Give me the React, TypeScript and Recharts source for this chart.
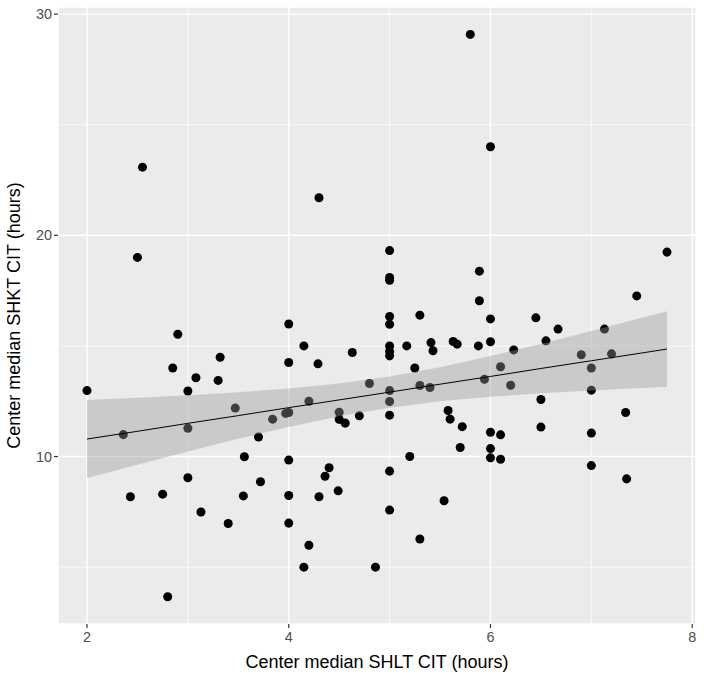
import {
  ComposedChart, Scatter, Area, Line, XAxis, YAxis, CartesianGrid,
} from "recharts";

const panelBg = "#EBEBEB";
const tickInk = "#4D4D4D";
const font = "'Liberation Sans', Arial, Helvetica, sans-serif";

// SHLT CIT (x) and SHKT CIT (y) per center, hours
const shlt = [
  2.0, 2.36, 2.43, 2.5, 2.55, 2.75, 2.8, 2.85, 2.9, 3.0, 3.0, 3.0, 3.08, 3.13, 3.3, 3.32,
  3.4, 3.47, 3.55, 3.56, 3.7, 3.72, 3.84, 3.97, 4.0, 4.0, 4.0, 4.0, 4.0, 4.0, 4.15, 4.15,
  4.2, 4.2, 4.29, 4.3, 4.3, 4.36, 4.4, 4.49, 4.5, 4.5, 4.56, 4.63, 4.7, 4.8, 4.86,
  5.0, 5.0, 5.0, 5.0, 5.0, 5.0, 5.0, 5.0, 5.0, 5.0, 5.0, 5.0, 5.0, 5.17, 5.2, 5.25,
  5.3, 5.3, 5.3, 5.4, 5.41, 5.43, 5.54, 5.58, 5.6, 5.63, 5.67, 5.7, 5.72, 5.8, 5.88,
  5.89, 5.89, 5.94, 6.0, 6.0, 6.0, 6.0, 6.0, 6.0, 6.1, 6.1, 6.1, 6.2, 6.23, 6.45, 6.5,
  6.5, 6.55, 6.67, 6.9, 7.0, 7.0, 7.0, 7.0, 7.13, 7.2, 7.34, 7.35, 7.45, 7.75,
];
const shkt = [
  12.98, 10.99, 8.18, 19.0, 23.08, 8.3, 3.66, 14.0, 15.53, 12.96, 11.28, 9.04, 13.56, 7.49, 13.44, 14.49,
  6.97, 12.19, 8.22, 9.99, 10.88, 8.86, 11.69, 11.95, 11.99, 15.99, 14.25, 9.84, 8.24, 6.99, 15.0, 5.0,
  12.5, 5.99, 14.19, 21.7, 8.18, 9.11, 9.49, 8.45, 12.0, 11.68, 11.51, 14.7, 11.84, 13.3, 5.0,
  19.31, 18.09, 17.97, 16.33, 15.98, 15.0, 14.75, 14.55, 12.98, 12.49, 11.87, 9.34, 7.58, 15.0, 10.0, 14.0,
  16.39, 13.21, 6.27, 13.12, 15.15, 14.78, 8.0, 12.08, 11.69, 15.2, 15.08, 10.41, 11.35, 29.08, 15.0,
  18.38, 17.04, 13.49, 24.0, 16.22, 15.19, 11.1, 10.36, 9.94, 14.06, 10.98, 9.88, 13.22, 14.82, 16.27, 12.58,
  11.33, 15.23, 15.76, 14.6, 14.0, 13.0, 11.06, 9.59, 15.76, 14.64, 11.99, 8.99, 17.26, 19.24,
];

// linear fit and its 95% band
const fitX = [2, 2.5, 3, 3.5, 4, 4.5, 5, 5.5, 6, 6.5, 7, 7.5, 7.75];
const fitY = [10.79, 11.14, 11.5, 11.85, 12.21, 12.56, 12.91, 13.27, 13.62, 13.98, 14.33, 14.68, 14.86];
const bandLo = [9.03, 9.63, 10.23, 10.8, 11.34, 11.82, 12.21, 12.5, 12.7, 12.86, 12.99, 13.1, 13.15];
const bandHi = [12.55, 12.66, 12.77, 12.91, 13.07, 13.3, 13.62, 14.04, 14.54, 15.09, 15.67, 16.27, 16.57];

const xTicks = [2, 4, 6, 8];
const yTicks = [10, 20, 30];
const xMinor = [3, 5, 7];
const yMinor = [5, 15, 25];

const points = shlt.map((x, i) => ({ x, y: shkt[i] }));
const fitRows = fitX.map((x, i) => ({ x, fit: fitY[i], band: [bandLo[i], bandHi[i]] }));

const tickStyle = { fontSize: 14.4, fill: tickInk, fontFamily: font };
const titleStyle = { fontSize: 18, fill: "#000", fontFamily: font };

export default function App() {
  return (
    <div style={{ position: "absolute", left: 0, top: 0 }}>
      <ComposedChart width={704} height={677} data={fitRows}
        margin={{ top: 7, right: 8, bottom: 0, left: 0 }}>
        <CartesianGrid fill={panelBg} stroke="#FFFFFF" strokeWidth={0.7}
          verticalValues={xMinor} horizontalValues={yMinor} />
        <CartesianGrid stroke="#FFFFFF" strokeWidth={1.4} fill="none" />
        <XAxis type="number" dataKey="x" domain={[1.7125, 8.0375]} ticks={xTicks}
          allowDataOverflow height={53} axisLine={false} tickSize={4} tickMargin={4}
          tickLine={{ stroke: "#333333", strokeWidth: 1.2 }} tick={tickStyle}
          label={{ value: "Center median SHLT CIT (hours)", position: "insideBottom", offset: 9, style: titleStyle }} />
        <YAxis type="number" dataKey="y" domain={[2.43, 30.32]} ticks={yTicks}
          allowDataOverflow width={58} axisLine={false} tickSize={4} tickMargin={2}
          tickLine={{ stroke: "#333333", strokeWidth: 1.2 }} tick={tickStyle}
          label={{ value: "Center median SHKT CIT (hours)", angle: -90, position: "insideLeft", offset: 14, style: { ...titleStyle, textAnchor: "middle" } }} />
        <Scatter data={points} fill="#000000" isAnimationActive={false} zIndex={50} />
        <Area type="linear" dataKey="band" stroke="none" fill="#999999" fillOpacity={0.4}
          isAnimationActive={false} zIndex={100} />
        <Line type="linear" dataKey="fit" stroke="#000000" strokeWidth={1} dot={false}
          activeDot={false} isAnimationActive={false} zIndex={400} />
      </ComposedChart>
    </div>
  );
}
